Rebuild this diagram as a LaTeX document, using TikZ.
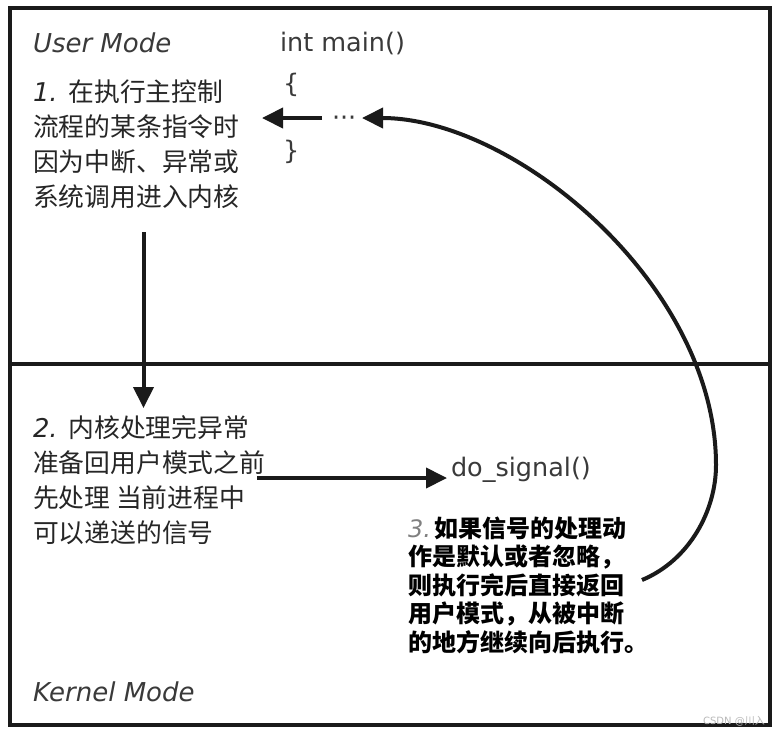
\documentclass[tikz,border=0pt]{standalone}
\usepackage{fontspec}
\setmainfont{DejaVu Sans}
\newfontfamily\cjk{Noto Sans CJK SC}
\usetikzlibrary{arrows.meta}
\definecolor{ink}{HTML}{1A1A1A}
\definecolor{txt}{HTML}{262626}
\definecolor{soft}{HTML}{3A3A3A}
\tikzset{
  frame/.style={draw=ink, line width=3.6pt},
  arr/.style={draw=ink, line width=4pt, -{Triangle[length=21pt,width=20pt]}},
  plain/.style={inner sep=0pt, outer sep=0pt, text=txt, anchor=west},
  modelabel/.style={plain, text=soft, font=\fontsize{26}{30}\selectfont\itshape},
  code/.style={plain, text=soft, font=\fontsize{25.5}{30}\selectfont},
  note/.style={plain, align=left, font=\fontsize{25.8}{35}\selectfont},
  boldnote/.style={plain, align=left, text=black, font=\fontsize{24}{28.5}\selectfont\bfseries}
}
\begin{document}
\begin{tikzpicture}[x=1pt,y=-1pt]
\useasboundingbox (0,0) rectangle (781,734);
\fill[white] (0,0) rectangle (781,734);
% frame and divider
\draw[frame] (10,8) rectangle (770,725);
\draw[ink, line width=3.2pt] (10,364) -- (770,364);

% texts
\node[modelabel] (user) at (33,43) {User Mode};
\node[modelabel] (kernel) at (33,692) {Kernel Mode};
\node[code] (main) at (280,43) {int main()};
\node[code] (lb) at (283,85) {\{};
\node[code] (dots) at (332,121) {···};
\node[code] (rb) at (283,152) {\}};
\node[code] (dosig) at (451,470) {do\_signal()};

\node[note] (t1) at (33,144.5) {{\itshape 1.} {\cjk 在执行主控制}\\{\cjk 流程的某条指令时}\\{\cjk 因为中断、异常或}\\{\cjk 系统调用进入内核}};
\node[note] (t2) at (33,480) {{\itshape 2.} {\cjk 内核处理完异常}\\{\cjk 准备回用户模式之前}\\{\cjk 先处理 当前进程中}\\{\cjk 可以递送的信号}};
\node[boldnote] (t3) at (408,585) {{\mdseries\itshape\color{gray}3.}\,{\cjk 如果信号的处理动}\\{\cjk 作是默认或者忽略，}\\{\cjk 则执行完后直接返回}\\{\cjk 用户模式，从被中断}\\{\cjk 的地方继续向后执行。}};

\node[plain, anchor=center, text=gray!55, font=\fontsize{10}{12}\selectfont] (wm) at (734,721) {CSDN @{\cjk 川入}};

% connectors
\coordinate (a1s) at (322,118);
\coordinate (a1e) at (262,118);
\coordinate (a2s) at (143.5,232);
\coordinate (a2e) at (143.5,408);
\coordinate (a3s) at (257,478);
\coordinate (a3e) at (447,478);
\coordinate (c0) at (642,580);
\coordinate (c1) at (716,465);
\coordinate (cend) at (362,118);

\draw[arr] (a1s) -- (a1e);
\draw[arr] (a2s) -- (a2e);
\draw[arr] (a3s) -- (a3e);
\draw[arr] (c0) .. controls (690,560) and (716,510) .. (c1)
  .. controls (716,285) and (515,118) .. (cend);
\end{tikzpicture}
\end{document}
